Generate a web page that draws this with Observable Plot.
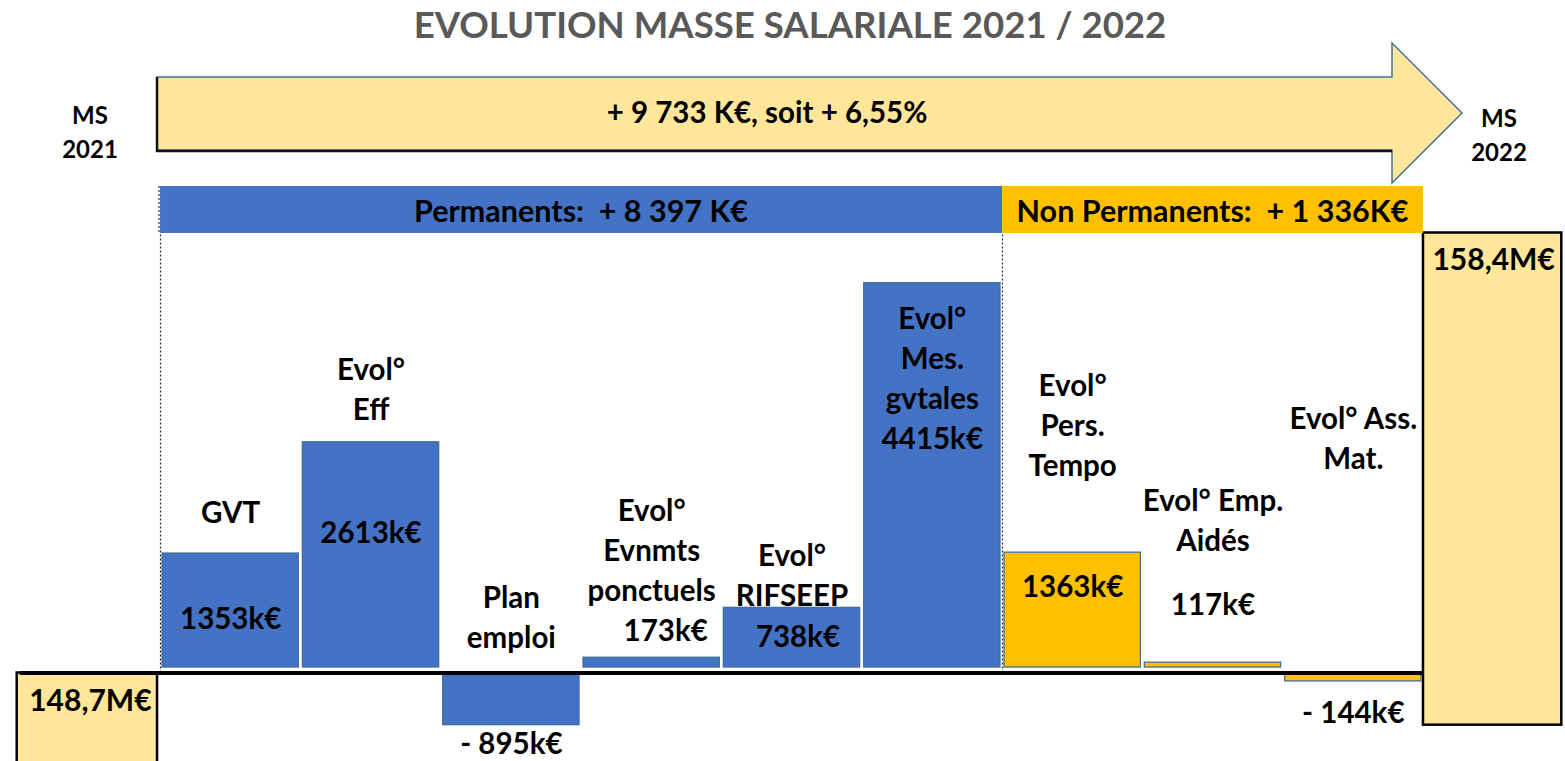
<!DOCTYPE html>
<html><head><meta charset="utf-8">
<script src="https://cdn.jsdelivr.net/npm/d3@7"></script>
<script src="https://cdn.jsdelivr.net/npm/@observablehq/plot@0.6"></script>
<style>
html,body{margin:0;padding:0;background:#fff;}
#wrap{position:relative;width:1565px;height:761px;overflow:hidden;font-family:Lato,"Open Sans",sans-serif;}
#chart{position:absolute;left:0;top:231px;}
#header{position:absolute;left:0;top:0;}
</style></head>
<body><div id="wrap"><div id="chart"></div><svg id="header" width="1565" height="234"></svg></div>
<script>
// ---------- data ----------
const title = "EVOLUTION MASSE SALARIALE 2021 / 2022";
const evolutionLabel = "+ 9 733 K€, soit + 6,55%";
const categories = ["GVT", "Evol° Eff", "Plan emploi", "Evol° Evnmts ponctuels", "Evol° RIFSEEP",
  "Evol° Mes. gvtales", "Evol° Pers. Tempo", "Evol° Emp. Aidés", "Evol° Ass. Mat."];
const nameLabels = ["GVT", "Evol°\nEff", "Plan\nemploi", "Evol°\nEvnmts\nponctuels", "Evol°\nRIFSEEP",
  "Evol°\nMes.\ngvtales", "Evol°\nPers.\nTempo", "Evol° Emp.\nAidés", "Evol° Ass.\nMat."];
const values = [1353, 2613, -895, 173, 738, 4415, 1363, 117, -144];
const valueLabels = ["1353k€", "2613k€", "- 895k€", "173k€", "738k€", "4415k€", "1363k€", "117k€", "- 144k€"];
const groups = ["Permanents", "Permanents", "Permanents", "Permanents", "Permanents", "Permanents",
  "Non Permanents", "Non Permanents", "Non Permanents"];
const groupNames = ["Permanents", "Non Permanents"];
const groupLabels = ["Permanents:\u00a0 + 8 397 K€", "Non Permanents:\u00a0 + 1 336K€"];
const totalNames = ["MS\n2021", "MS\n2022"];
const totalLabels = ["148,7M€", "158,4M€"];

// ---------- layout ----------
const W = 1565, H = 530;
const yMax = 5000;                 // top of the plot area, k€
const negRatio = 0.66;             // negative side drawn compressed, as in the reference
const yMinT = -1002;               // bottom of the plot area (transformed units)
const yMin = yMinT / negRatio;     // same, in k€
const FONT = "Lato, 'Open Sans', sans-serif";
const textBase = {fontFamily: FONT, fontWeight: "bold", fontSize: 29.5, fill: "#000", lineHeight: 40 / 29.5};

const rows = categories.map((c, k) => ({cat: c, i: k + 1, value: values[k], group: groups[k],
  name: nameLabels[k], vlabel: valueLabels[k]}));
const totals = totalLabels.map((t, k) => ({label: t, i: k === 0 ? 0 : categories.length + 1}));

const layout = {
  "GVT": {nameDy: -30.5, valueDy: 63},
  "Evol° Eff": {nameDy: -22.3, valueDy: 88},
  "Plan emploi": {nameDy: -25, valueDy: 16},
  "Evol° Evnmts ponctuels": {nameDy: -56.7, valueDy: -29.2, valueDx: 14},
  "Evol° RIFSEEP": {nameDy: -1.8, valueDy: 26.7, valueDx: 6},
  "Evol° Mes. gvtales": {nameDy: 165.8, merge: true},
  "Evol° Pers. Tempo": {nameDy: -76.6, valueDy: 32},
  "Evol° Emp. Aidés": {nameDy: -111.7, valueDy: -60.2},
  "Evol° Ass. Mat.": {nameDy: -204, valueDy: 29}
};

const labelMarks = rows.flatMap(d => {
  const L = layout[d.cat];
  const m = [Plot.text([d], {x: r => r.i + 0.5, y: r => Math.max(r.value, 0),
    text: r => L.merge ? r.name + "\n" + r.vlabel : r.name, lineAnchor: "bottom", dy: L.nameDy, ...textBase})];
  if (!L.merge) m.push(Plot.text([d], {x: r => r.i + 0.5, y: "value", text: "vlabel",
    lineAnchor: "middle", dy: L.valueDy, dx: L.valueDx || 0, ...textBase}));
  return m;
});

const plot = Plot.plot({
  width: W, height: H,
  marginLeft: 19.7, marginRight: 1.7, marginTop: 0, marginBottom: 0,
  x: {domain: [0, categories.length + 2], axis: null},
  y: {domain: [yMinT, yMax], transform: v => v < 0 ? v * negRatio : v, axis: null},
  color: {domain: groupNames, range: ["#4472C4", "#FFC000"]},
  marks: [
    Plot.ruleX([1, 7], {x: d => d, y1: 0, y2: yMax, stroke: "#333", strokeWidth: 1.2, strokeDasharray: "2,2"}),
    Plot.rectY(totals.filter(d => d.i === 0), {x1: "i", x2: d => d.i + 1, y1: 0, y2: yMin * 1.2,
      fill: "#FFE699", stroke: "#000", strokeWidth: 2.5, insetLeft: -3, insetRight: 3}),
    Plot.rectY(totals.filter(d => d.i > 0), {x1: "i", x2: d => d.i + 1, y1: d3.min(values), y2: yMax,
      fill: "#FFE699", stroke: "#000", strokeWidth: 2.5, insetTop: 1.5, insetRight: 2}),
    Plot.rectY(rows.filter(d => d.value > 0), {x1: "i", x2: d => d.i + 1, y1: 0, y2: "value",
      fill: "group", stroke: "#41719C", strokeWidth: 1.3, insetLeft: 2, insetRight: 2, insetBottom: 5.5}),
    Plot.rectY(rows.filter(d => d.value < 0), {x1: "i", x2: d => d.i + 1, y1: 0, y2: "value",
      fill: "group", stroke: "#41719C", strokeWidth: 1.3, insetLeft: 2, insetRight: 2}),
    Plot.ruleY([0], {x1: 0, x2: categories.length + 1, stroke: "#000", strokeWidth: 4}),
    ...labelMarks,
    Plot.text(totals, {x: d => d.i + 0.5, y: d => d.i === 0 ? 0 : yMax, text: "label",
      dy: 25, lineAnchor: "middle", ...textBase, fontSize: 30})
  ]
});
document.getElementById("chart").append(plot);

// ---------- header (title, arrow, group bands) ----------
const xs = plot.scale("x");
const hx = v => xs.apply(v);
const svg = d3.select("#header");
const txt = (x, y, s, size, fill) => svg.append("text").attr("x", x).attr("y", y + 0.358 * size)
  .attr("text-anchor", "middle").attr("font-family", FONT).attr("font-weight", "bold")
  .attr("font-size", size).attr("fill", fill || "#000").text(s);

txt(790, 25, title, 36.6, "#595959");

const aL = hx(1) - 3, aB = 1392, aT = 1462;
svg.append("polygon")
  .attr("points", [[aL, 77], [aB, 77], [aB, 43], [aT, 113], [aB, 183], [aB, 150], [aL, 150]].map(p => p.join(",")).join(" "))
  .attr("fill", "#FFE699").attr("stroke", "#41719C").attr("stroke-width", 1.5);
svg.append("polyline").attr("points", `${aL},77 ${aL},151 ${aB},151`)
  .attr("fill", "none").attr("stroke", "#111").attr("stroke-width", 2.5);
txt(767, 112, evolutionLabel, 29.5);

totalNames.forEach((n, k) => {
  const lines = n.split("\n");
  const cx = k === 0 ? 90 : 1499, y0 = k === 0 ? 115 : 118;
  lines.forEach((l, j) => txt(cx, y0 + j * 34.5, l, 24));
});

const bandX = [[hx(1), hx(7)], [hx(7), hx(categories.length + 1)]];
const bandFill = ["#4472C4", "#FFC000"];
bandX.forEach(([a, b], k) => {
  svg.append("rect").attr("x", a).attr("y", 186).attr("width", b - a).attr("height", 47).attr("fill", bandFill[k]);
  txt((a + b) / 2, 211, groupLabels[k], 30.5);
});
svg.append("line").attr("x1", hx(1) - 1).attr("x2", hx(1) - 1).attr("y1", 186).attr("y2", 234)
  .attr("stroke", "#333").attr("stroke-width", 1.2).attr("stroke-dasharray", "2,2");
</script></body></html>
